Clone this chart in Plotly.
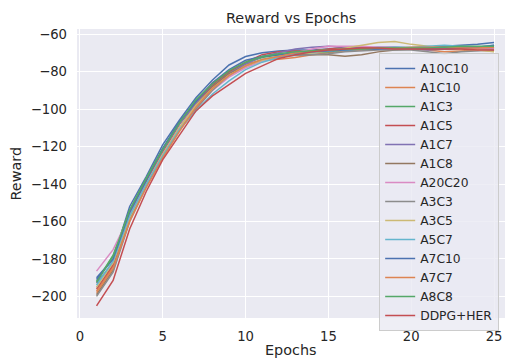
import plotly.graph_objects as go

# Training reward per epoch for each actor/critic configuration
epochs = list(range(1, 26))

A10C10 = [-190, -180, -152, -136, -119, -106, -94, -84.5, -76.5, -72, -70, -69, -68.5, -68.5, -68,
          -67.5, -67.5, -67, -67, -67.5, -67, -66.5, -66, -65.5, -64.5]
A1C10 = [-197, -184, -156, -138, -122, -108, -96, -86, -80, -76, -74, -73.5, -72.5, -71, -70,
         -69, -68.5, -68, -68, -68, -68.5, -69.5, -69, -68.5, -68]
A1C3 = [-192, -178, -154, -137, -121, -107, -96, -87, -80, -75.5, -72.5, -71, -70.5, -70, -69.5,
        -68.5, -68, -68, -67.5, -67.5, -67.5, -67.5, -67, -67, -67]
A1C5 = [-196, -183, -157, -139, -123, -108, -97, -87, -80, -75, -71, -69.5, -69, -69, -68,
        -67, -67, -67.5, -68, -67.5, -67, -67.5, -68, -68.5, -69]
A1C7 = [-193, -182, -155, -138, -122, -108, -97, -88, -81, -76, -72, -70, -68, -67, -66.5,
        -67, -67.5, -68, -68, -68, -68.5, -68, -68, -68, -67.5]
A1C8 = [-199, -186, -159, -140, -124, -110, -98, -88, -81, -77, -74, -72, -71, -71, -71,
        -71.8, -71, -69.5, -68.5, -68, -68, -68, -68, -67.5, -67.5]
A20C20 = [-186.5, -175, -157, -140, -124, -110, -99, -90, -83, -78, -74.5, -72, -70, -68, -66.5,
          -66.5, -66.5, -67, -67, -67.5, -67.5, -67.5, -68, -68, -68]
A3C3 = [-200, -187, -160, -141, -125, -111, -100, -90, -82, -77, -73.5, -72, -71.5, -71, -70.5,
        -69.5, -69, -68.5, -68.5, -68.5, -69.5, -70.5, -69.5, -69, -68.5]
A3C5 = [-195, -182, -158, -140, -124, -110, -98, -89, -82, -77, -74, -72, -70.5, -70, -69,
        -67.5, -66, -64.5, -64, -65.5, -66.5, -67.5, -68, -68.5, -69.5]
A5C7 = [-194, -181, -157, -140, -125, -111, -101, -92, -85, -79, -75, -72.5, -70.5, -69.5, -69,
        -68.5, -68, -67.5, -67, -67, -66.5, -66, -66.5, -67, -66]
A7C10 = [-191, -180, -155, -138, -121, -107, -96, -86, -79, -74, -72, -71, -70, -69.5, -69,
         -68.5, -68, -68, -67.5, -67.5, -68, -68, -67.5, -67, -66]
A7C7 = [-198, -185, -160, -142, -126, -112, -99, -89, -82, -77, -73.5, -72, -70, -69, -68.5,
        -68, -68, -67.5, -67.5, -67, -67, -67, -67.5, -67.5, -67]
A8C8 = [-192.5, -178.5, -154, -137, -121.5, -107.5, -95, -86.5, -79.5, -75, -72, -70.5, -69.5, -69, -68.5,
        -68, -68, -67.5, -67.5, -67.5, -67.5, -67, -66.5, -66.5, -66.5]
DDPG_HER = [-205, -191.5, -164, -144, -127, -114, -101, -93, -87, -81, -77, -73, -71, -69.5, -68.5,
            -68, -67.5, -67.5, -68, -68, -68, -68, -68, -68.5, -68.5]

series_names = ["A10C10", "A1C10", "A1C3", "A1C5", "A1C7", "A1C8", "A20C20",
                "A3C3", "A3C5", "A5C7", "A7C10", "A7C7", "A8C8", "DDPG+HER"]
series_values = [A10C10, A1C10, A1C3, A1C5, A1C7, A1C8, A20C20,
                 A3C3, A3C5, A5C7, A7C10, A7C7, A8C8, DDPG_HER]

x_ticks = [0, 5, 10, 15, 20, 25]
y_ticks = [-200, -180, -160, -140, -120, -100, -80, -60]
y_tick_labels = ["\u2212200", "\u2212180", "\u2212160", "\u2212140", "\u2212120", "\u2212100", "\u221280", "\u221260"]

palette = ["#4C72B0", "#DD8452", "#55A868", "#C44E52", "#8172B3",
           "#937860", "#DA8BC3", "#8C8C8C", "#CCB974", "#64B5CD"]

FONT = "DejaVu Sans"
TEXT = "#262626"

fig = go.Figure()
for i, (name, vals) in enumerate(zip(series_names, series_values)):
    fig.add_trace(go.Scatter(
        x=epochs, y=vals, mode="lines", name=name,
        line=dict(color=palette[i % len(palette)], width=1.5),
    ))

fig.update_layout(
    width=505, height=358,
    margin=dict(l=77, r=0, t=29, b=40),
    paper_bgcolor="white",
    plot_bgcolor="#EAEAF2",
    font=dict(family=FONT, color=TEXT, size=13.2),
    showlegend=True,
    legend=dict(
        x=0.706, y=0.917, xanchor="left", yanchor="top",
        bgcolor="rgba(234,234,242,0.8)", bordercolor="#CCCCCC", borderwidth=1,
        font=dict(family=FONT, size=12.3, color=TEXT),
        tracegroupgap=0, itemwidth=30,
    ),
    xaxis=dict(
        range=[-0.18, 25.66], tickvals=x_ticks,
        showgrid=True, gridcolor="white", gridwidth=1.2,
        zeroline=False, showline=False, ticks="",
        ticklabelstandoff=9,
        tickfont=dict(family=FONT, size=13.2, color=TEXT),
    ),
    yaxis=dict(
        range=[-211.5, -57.3], tickvals=y_ticks, ticktext=y_tick_labels,
        showgrid=True, gridcolor="white", gridwidth=1.2,
        zeroline=False, showline=False, ticks="",
        ticklabelstandoff=9,
        tickfont=dict(family=FONT, size=13.2, color=TEXT),
    ),
    annotations=[
        dict(text="Reward vs Epochs", xref="paper", yref="paper", x=0.5, y=1,
             yshift=11, xanchor="center", yanchor="middle", showarrow=False,
             font=dict(family=FONT, size=14.4, color=TEXT)),
        dict(text="Epochs", xref="paper", yref="paper", x=0.5, y=0,
             yshift=-32, xanchor="center", yanchor="middle", showarrow=False,
             font=dict(family=FONT, size=14.4, color=TEXT)),
        dict(text="Reward", xref="paper", yref="paper", x=0, y=0.5,
             xshift=-62, xanchor="center", yanchor="middle", showarrow=False,
             textangle=-90, font=dict(family=FONT, size=14.4, color=TEXT)),
    ],
)

fig.write_html("out.html")
